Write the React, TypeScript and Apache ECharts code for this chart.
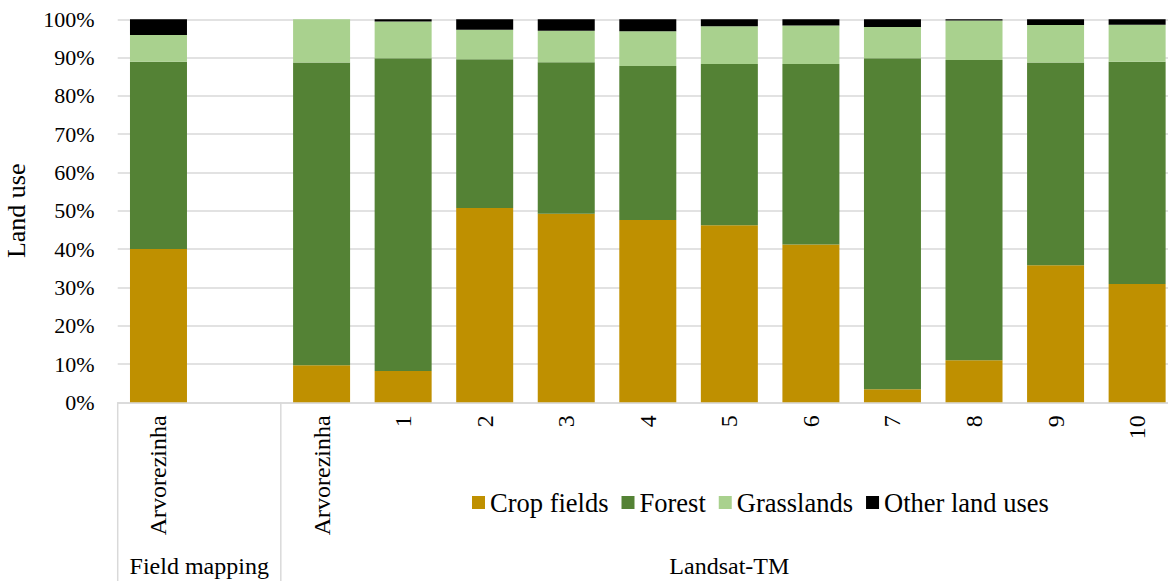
import React, { useEffect, useRef } from "react";
import * as echarts from "echarts";

const categories = ["Arvorezinha", "", "Arvorezinha", "1", "2", "3", "4", "5", "6", "7", "8", "9", "10"];
const groups = [
  { name: "Field mapping", from: 0, to: 1 },
  { name: "Landsat-TM", from: 2, to: 12 },
];
const seriesNames = ["Crop fields", "Forest", "Grasslands", "Other land uses"];
const cropFields = [40.0, null, 9.7, 8.2, 50.7, 49.2, 47.6, 46.2, 41.2, 3.4, 11.0, 35.8, 30.9];
const forest = [48.9, null, 79.0, 81.6, 38.9, 39.6, 40.2, 42.1, 47.1, 86.4, 78.4, 52.9, 58.0];
const grasslands = [7.0, null, 11.3, 9.6, 7.7, 8.2, 9.1, 9.9, 10.1, 8.2, 10.3, 9.8, 9.7];
const otherUses = [4.1, null, 0, 0.6, 2.7, 3.0, 3.1, 1.8, 1.6, 2.0, 0.3, 1.5, 1.4];
const yTicks = { min: 0, max: 100, interval: 10 };

const colors = ["#BF9000", "#548235", "#A9D18E", "#000000"];
const FONT = "Liberation Serif";

export default function App() {
  const ref = useRef<HTMLDivElement>(null);
  useEffect(() => {
    if (!ref.current) return;
    const chart = echarts.init(ref.current, undefined, { renderer: "svg" });
    const values = [cropFields, forest, grasslands, otherUses];
    chart.setOption({
      animation: false,
      color: colors,
      textStyle: { fontFamily: FONT },
      grid: {
        left: 117.7,
        top: 19.3,
        right: 2.1,
        height: 383,
        containLabel: false,
        outerBoundsMode: "none",
      },
      legend: {
        left: 467,
        top: 484,
        icon: "rect",
        itemWidth: 13,
        itemHeight: 13,
        itemGap: 13,
        data: seriesNames,
        textStyle: { fontSize: 26.5, color: "#000", fontFamily: FONT },
      },
      xAxis: {
        type: "category",
        data: categories,
        axisLine: { lineStyle: { color: "#d9d9d9", width: 1.5 } },
        axisTick: { show: false },
        axisLabel: {
          rotate: 90,
          interval: 0,
          margin: 13,
          fontSize: 24,
          color: "#000",
          fontFamily: FONT,
        },
      },
      yAxis: {
        type: "value",
        min: yTicks.min,
        max: yTicks.max,
        interval: yTicks.interval,
        name: "Land use",
        nameLocation: "middle",
        nameRotate: 90,
        nameGap: 88,
        nameTextStyle: { fontSize: 26, color: "#000", fontFamily: FONT },
        axisLine: { show: false },
        axisTick: { show: false },
        splitLine: { lineStyle: { color: "#d9d9d9", width: 1.5 } },
        axisLabel: {
          formatter: "{value}%",
          fontSize: 22,
          margin: 23,
          color: "#000",
          fontFamily: FONT,
          padding: [3, 0, 0, 0],
        },
      },
      series: seriesNames.map((name, i) => ({
        name,
        type: "bar",
        stack: "total",
        barWidth: 57,
        data: values[i],
        itemStyle: { color: colors[i] },
      })),
    });

    const px = (i: number) => chart.convertToPixel({ xAxisIndex: 0 }, i) as number;
    const band = px(1) - px(0);
    const bottomY = 402.3;
    const graphics: any[] = [];
    const boundaries = new Set<number>();
    groups.forEach((g) => {
      const l = px(g.from) - band / 2;
      const r = px(g.to) + band / 2;
      boundaries.add(Math.round(l * 100) / 100);
      boundaries.add(Math.round(r * 100) / 100);
      graphics.push({
        type: "text",
        x: (l + r) / 2,
        y: 566,
        style: {
          text: g.name,
          fontSize: 24,
          fontFamily: FONT,
          fill: "#000",
          align: "center",
          verticalAlign: "middle",
        },
      });
    });
    boundaries.forEach((x) => {
      graphics.push({
        type: "line",
        shape: { x1: x, y1: bottomY, x2: x, y2: 581 },
        style: { stroke: "#d9d9d9", lineWidth: 1.5 },
      });
    });
    chart.setOption({ graphic: graphics });

    return () => chart.dispose();
  }, []);
  return (
    <div style={{ position: "fixed", left: 0, top: 0, width: 1168, height: 581, overflow: "hidden", background: "#fff" }}>
      <div ref={ref} style={{ width: 1180, height: 581 }} />
    </div>
  );
}
